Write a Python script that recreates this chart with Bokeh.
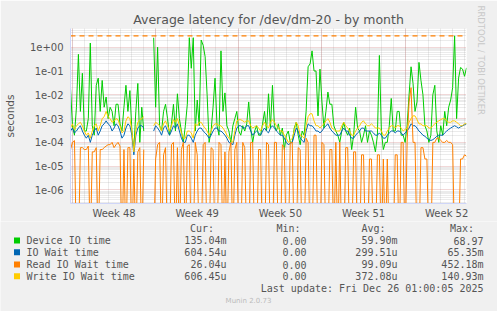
import math
from bokeh.plotting import figure
from bokeh.layouts import column
from bokeh.models import Range1d, FixedTicker, Title
from bokeh.core.properties import value
from bokeh.embed import file_html
from bokeh.resources import INLINE

N = None
# ---------------- data (seconds), one point per 4 hours ----------------
step_days = 1.0 / 6.0
device_io = [
    0.02, 5e-4, 2e-4, 0.003, 0.5, 0.002, 0.08, 3e-4, 3e-4, 0.001,
    1.5, 5e-4, 2e-4, 0.025, 0.05, 0.002, 0.04, 0.003, 0.008, 0.001,
    0.003, 0.002, 5e-4, 0.004, 0.004, 6e-4, 3e-4, 0.003, 0.025, 0.002,
    0.015, 3e-4, 5e-5, 0.002, 0.03, 1e-4, 0.003, 3e-4, N, N,
    N, N, 2.5, 0.003, 1.0, 5e-4, 3e-4, 0.002, 0.004, 0.001,
    2e-4, 6e-4, 0.004, 3e-4, 0.011, 0.001, 3e-4, 1e-4, 5e-4, 0.004,
    2.5, 0.13, 2.5, 3e-4, 0.006, 5e-4, 2.0, 1.2, 0.4, 0.01,
    1e-4, 3e-4, 0.003, 0.05, 5e-4, 2e-4, 0.7, 0.002, 0.012, 5e-4,
    3e-4, 1e-4, 5e-4, 0.001, 0.002, 3e-4, 2e-4, 5e-4, 3e-4, 6e-4,
    0.005, 4e-4, 1e-4, 3e-4, 5e-4, 2e-4, 2e-4, 6e-4, 0.002, 3e-4,
    0.011, 4e-4, 0.025, 5e-4, 3e-4, 6e-4, 2e-4, 4e-4, 5e-5, 2e-4,
    3e-4, 1e-4, 1e-4, 4e-4, 7e-4, 2e-4, 8e-5, 3e-4, 2e-4, 0.002,
    0.15, 0.2, 0.7, 0.1, 0.1, 0.0013, 0.12, 0.005, 4e-4, 0.002,
    0.013, 0.004, 0.004, 5e-4, 3e-4, 2e-4, 1e-4, 3e-4, 7e-4, 3e-4,
    2e-4, 4e-4, 5e-5, 2e-4, 0.003, 4e-4, 3e-4, 1e-4, 2e-4, 5e-4,
    1e-4, 3e-4, 2e-4, 1e-4, 4e-5, 2e-4, 0.45, 3e-4, 5e-5, 1e-4,
    1e-4, 5e-4, 0.007, 3e-4, 3e-4, 0.002, 0.002, 2e-4, 2e-4, 1e-4,
    5e-4, 0.01, 0.15, 0.03, 0.002, 0.005, 0.23, 0.04, 0.01, 5e-4,
    3e-4, 1e-4, 2e-4, 0.01, 0.025, 3e-4, 1e-4, 5e-4, 2e-4, 0.002,
    5e-4, 0.003, 0.006, 0.02, 3.0, 0.001, 0.05, 0.14, 0.12, 0.06,
    0.135]
io_wait = [
    3e-4, 4e-4, 2.5e-4, 3e-4, 4e-4, 5e-4, 3e-4, 2e-4, 1.5e-4, 2e-4,
    1e-4, 2e-4, 3e-4, 4e-4, 2e-4, 3e-4, 5e-4, 6e-4, 8e-4, 6e-4,
    5e-4, 3e-4, 4e-4, 6e-4, 5e-4, 3e-4, 1.5e-4, 2e-4, 4e-4, 6e-4,
    5e-4, 2e-4, 3e-5, 2e-4, 4e-4, 5e-4, 5e-4, 4e-4, N, N,
    N, N, 3e-4, 5e-4, 4e-4, 3e-4, 2e-4, 4e-4, 5e-4, 3e-4,
    2e-4, 3e-4, 5e-4, 4e-4, 6e-4, 3e-4, 1.5e-4, 1e-4, 1e-4, 2e-4,
    2e-4, 1.5e-4, 1e-4, 2e-4, 3e-4, 4e-4, 4e-4, 3e-4, 2.5e-4, 2e-4,
    1.5e-4, 2e-4, 3e-4, 4e-4, 4e-4, 3e-4, 3e-4, 2.5e-4, 2e-4, 1.5e-4,
    1e-4, 9e-5, 8e-5, 2e-4, 4e-4, 5e-4, 5e-4, 4e-4, 4e-4, 5e-4,
    5e-4, 3e-4, 2e-4, 2.5e-4, 3e-4, 2.5e-4, 2e-4, 3e-4, 4e-4, 3e-4,
    2.5e-4, 4e-4, 5e-4, 4e-4, 3e-4, 2.5e-4, 2e-4, 2e-4, 1.5e-4, 1e-4,
    8e-5, 9e-5, 1e-4, 2e-4, 4e-4, 3e-4, 1.5e-4, 1.2e-4, 1e-4, 3e-4,
    6e-4, 5e-4, 5e-4, 4e-4, 3e-4, 3e-4, 2.5e-4, 3e-4, 4e-4, 5e-4,
    6e-4, 4e-4, 3e-4, 2.5e-4, 2e-4, 2e-4, 2e-4, 3e-4, 4e-4, 3e-4,
    3e-4, 2e-4, 1.5e-4, 1.5e-4, 2e-4, 2.5e-4, 3e-4, 4e-4, 4e-4, 3e-4,
    3e-4, 3e-4, 3e-4, 2.5e-4, 2e-4, 2e-4, 2.5e-4, 2e-4, 1.5e-4, 1.5e-4,
    2e-4, 2.5e-4, 3e-4, 3e-4, 2.5e-4, 3e-4, 3e-4, 2.5e-4, 2e-4, 2.5e-4,
    3e-4, 4e-4, 6e-4, 5e-4, 5e-4, 4e-4, 3e-4, 2.5e-4, 2e-4, 1.8e-4,
    1.5e-4, 1.3e-4, 1.2e-4, 1.3e-4, 1.5e-4, 1.8e-4, 2e-4, 2e-4, 2e-4, 2.5e-4,
    3e-4, 3.5e-4, 4e-4, 4.5e-4, 5e-4, 4.5e-4, 4e-4, 4.5e-4, 5e-4, 5.5e-4,
    6.0e-4]
read_wait = [
    5e-5, 1e-4, 1.2e-4, 0, 0, 6e-5, 6e-5, 5e-5, 5e-5, 7e-5,
    0, 4e-5, 4e-5, 6e-5, 0, 5e-5, 5e-5, 6e-5, 7e-5, 8e-5,
    8e-5, 1e-4, 6e-5, 8e-5, 1e-4, 7e-5, 0, 5e-5, 0, 6e-5,
    6e-5, 0, 2e-5, 0, 4e-5, 6e-5, 0, 5e-5, N, N,
    N, N, 0, 2e-5, 8e-5, 1e-4, 0, 3e-5, 6e-5, 0,
    0, 8e-5, 1e-4, 0, 6e-5, 0, 5e-5, 1e-4, 0, 7e-5,
    8e-5, 0, 0, 1e-4, 3e-5, 0, 0, 8e-5, 1e-4, 0,
    0, 6e-5, 5e-5, 0, 0, 1e-4, 8e-5, 0, 4e-5, 0,
    4e-5, 1e-4, 0, 5e-5, 1e-4, 0, 0, 1e-4, 6e-5, 0,
    0, 1e-4, 1e-4, 0, 0, 5e-5, 5e-5, 0, 0, 1e-4,
    8e-5, 0, 0, 1e-4, 1e-4, 0, 0, 8e-5, 6e-5, 0,
    0, 1e-4, 1e-4, 0, 0, 6e-5, 5e-5, 0, 0, 1.5e-4,
    1e-4, 0, 0, 2e-4, 2e-4, 0, 0, 1e-4, 8e-5, 0,
    0, 5e-5, 5e-5, 0, 1e-4, 0, 1e-4, 0, 0, 6e-5,
    6e-5, 0, 0, 4e-5, 4e-5, 0, 0, 3e-5, 3e-5, 0,
    0, 2e-5, 2e-5, 0, 0, 3e-5, 3e-5, 0, 2e-5, 0,
    2e-5, 0, 0, 0, 3e-5, 3e-5, 0, 1e-4, 1e-4, 0,
    1e-4, 0.005, 0.02, 1e-4, 1e-4, 0, 0, 6e-5, 6e-5, 2e-5,
    2e-5, 0, 0, 1e-4, 1e-4, 1.5e-4, 1.5e-4, 1.2e-4, 1e-4, 1e-4,
    1.2e-4, 1e-4, 1e-4, 8e-5, 0, 0, 0, 2e-5, 2e-5, 3e-5,
    2.6e-5]
write_wait = [
    4e-4, 6e-4, 3.5e-4, 5e-4, 6e-4, 7e-4, 5e-4, 3e-4, 2e-4, 2.5e-4,
    1.5e-4, 3e-4, 5e-4, 6e-4, 3e-4, 5e-4, 1e-3, 1.2e-3, 2e-3, 1.2e-3,
    1e-3, 7e-4, 8e-4, 1e-3, 9e-4, 5e-4, 2.5e-4, 3e-4, 8e-4, 1.2e-3,
    1e-3, 3e-4, 4e-5, 3e-4, 7e-4, 9e-4, 1e-3, 1.2e-3, N, N,
    N, N, 5e-4, 7e-4, 6e-4, 5e-4, 3e-4, 6e-4, 8e-4, 5e-4,
    3e-4, 5e-4, 9e-4, 7e-4, 1e-3, 5e-4, 2.5e-4, 1.5e-4, 1.5e-4, 3e-4,
    3e-4, 2.5e-4, 1.5e-4, 6e-4, 5e-4, 7e-4, 7e-4, 5e-4, 4e-4, 3e-4,
    2e-4, 3e-4, 5e-4, 6e-4, 6e-4, 5e-4, 5e-4, 4e-4, 3e-4, 2e-4,
    1.5e-4, 1.2e-4, 1e-4, 3e-4, 8e-4, 9e-4, 9e-4, 8e-4, 7e-4, 8e-4,
    8e-4, 5e-4, 4e-4, 4.5e-4, 5e-4, 4e-4, 3e-4, 5e-4, 7e-4, 5e-4,
    4e-4, 7e-4, 9e-4, 7e-4, 5e-4, 4e-4, 3e-4, 3e-4, 2e-4, 1.5e-4,
    1e-4, 1.2e-4, 1.5e-4, 3e-4, 7e-4, 5e-4, 2e-4, 1.8e-4, 1.5e-4, 5e-4,
    1.2e-3, 1.6e-3, 1.6e-3, 8e-4, 5e-4, 5e-4, 4e-4, 5e-4, 6e-4, 8e-4,
    1e-3, 7e-4, 4e-4, 3.5e-4, 3e-4, 3e-4, 3e-4, 5e-4, 7e-4, 5e-4,
    4e-4, 3e-4, 2e-4, 2e-4, 3e-4, 4e-4, 5e-4, 7e-4, 8e-4, 6e-4,
    5e-4, 5e-4, 6e-4, 5e-4, 4e-4, 4e-4, 4e-4, 3e-4, 2e-4, 2e-4,
    3e-4, 4e-4, 5e-4, 5e-4, 4e-4, 5e-4, 5e-4, 4e-4, 3e-4, 3.5e-4,
    4e-4, 7e-4, 1e-3, 1.3e-3, 1.3e-3, 9e-4, 6e-4, 6e-4, 5e-4, 5e-4,
    5e-4, 4e-4, 4e-4, 5e-4, 6e-4, 7e-4, 8e-4, 9e-4, 1e-3, 1e-3,
    8e-4, 7e-4, 7e-4, 8e-4, 8e-4, 7e-4, 6e-4, 5e-4, 5e-4, 6e-4,
    6.1e-4]
warning_level = 3.0

series_names = ["Device IO time", "IO Wait time", "Read IO Wait time", "Write IO Wait time"]
series_colors = ["#00CC00", "#0066B3", "#FF8000", "#FFCC00"]
cur_vals = ["135.04m", "604.54u", "26.04u", "606.45u"]
min_vals = ["0.00", "0.00", "0.00", "0.00"]
avg_vals = ["59.90m", "299.51u", "99.09u", "372.08u"]
max_vals = ["68.97", "65.35m", "452.18m", "140.93m"]
col_heads = ["Cur:", "Min:", "Avg:", "Max:"]
last_update = "Last update: Fri Dec 26 01:00:05 2025"
title_text = "Average latency for /dev/dm-20 - by month"

week_labels = ["Week 48", "Week 49", "Week 50", "Week 51", "Week 52"]
week_starts = [1.0 / 6.0 + 7 * k for k in range(5)]      # Mondays, days from left edge
week_mid = [s + 3.5 for s in week_starts]
day_lines = [1.0 / 6.0 + k for k in range(34)]
span_days = 400.0 / 12.0
y_lo, y_hi = 2.7e-7, 6.1
dec_exp = list(range(-6, 1))
decades = [10.0 ** e for e in dec_exp]
minor_y = [m * 10.0 ** e for e in range(-7, 1) for m in range(2, 10)]

# ---------------- chart figure ----------------
W = 497
H1, H2 = 221, 90
FL, FR, FT, FB = 67, 467, 28, 203
FONT = "DejaVu Sans"
MONO = "DejaVu Sans Mono"
TXT = "#555555"
BG = "#F0F0F0"

p = figure(width=W, height=H1, output_backend="svg", toolbar_location=None,
           y_axis_type="log", x_range=Range1d(0, span_days), y_range=Range1d(y_lo, y_hi),
           min_border_left=FL, min_border_right=W - FR, min_border_top=FT,
           min_border_bottom=H1 - FB)
p.background_fill_color = "#FFFFFF"
p.border_fill_color = BG
p.outline_line_color = None

p.title.text = title_text
p.title.align = "center"
p.title.text_font = FONT
p.title.text_font_size = "12.5px"
p.title.text_font_style = "normal"
p.title.text_color = TXT
p.title.standoff = 3

rt = Title(text="RRDTOOL / TOBI OETIKER", text_font=FONT, text_font_size="8.5px",
           text_font_style="normal", text_color="#C8C8C8", align="left",
           standoff=19, offset=-23)
p.add_layout(rt, "right")

# grids
p.xgrid.ticker = FixedTicker(ticks=week_starts, minor_ticks=day_lines)
p.ygrid.ticker = FixedTicker(ticks=decades, minor_ticks=minor_y)
for g in (p.xgrid, p.ygrid):
    g.grid_line_color = "#C86464"
    g.grid_line_alpha = 0.5
    g.grid_line_dash = "1 1"
    g.minor_grid_line_color = "#8C8C8C"
    g.minor_grid_line_alpha = 0.35
    g.minor_grid_line_dash = "1 1"

# axes
p.xaxis.ticker = FixedTicker(ticks=week_mid)
p.xaxis.major_label_overrides = {t: l for t, l in zip(week_mid, week_labels)}
p.yaxis.ticker = FixedTicker(ticks=decades)
p.yaxis.major_label_overrides = {d: "1e%+03d" % e for d, e in zip(decades, dec_exp)}
for ax in (p.xaxis[0], p.yaxis[0]):
    ax.axis_line_color = "#CFD6F8"
    ax.axis_line_width = 1
    ax.major_tick_in = 0
    ax.major_tick_out = 0
    ax.minor_tick_in = 0
    ax.minor_tick_out = 0
    ax.major_label_text_font = FONT
    ax.major_label_text_font_size = "10px"
    ax.major_label_text_color = TXT
p.xaxis.major_label_standoff = 4
p.yaxis.major_label_standoff = 7
p.yaxis.axis_label = "seconds"
p.yaxis.axis_label_text_font = FONT
p.yaxis.axis_label_text_font_size = "10.5px"
p.yaxis.axis_label_text_font_style = "normal"
p.yaxis.axis_label_text_color = TXT
p.yaxis.axis_label_standoff = 11

# series
x = [i * step_days for i in range(len(device_io))]
def prep(vals):
    out = []
    for v in vals:
        if v is None:
            out.append(float("nan"))
        elif v <= 0:
            out.append(y_lo * 0.01)   # zero on a log scale: line drops to the bottom edge
        else:
            out.append(v)
    return out

for vals, col in zip([device_io, io_wait, read_wait, write_wait], series_colors):
    p.line(x, prep(vals), line_color=col, line_width=1)

p.line([0, span_days], [warning_level, warning_level], line_color="#FF8000",
       line_width=1.2, line_dash="5 4")

# ---------------- legend figure (pixel coordinates) ----------------
q = figure(width=W, height=H2, output_backend="svg", toolbar_location=None,
           x_range=Range1d(0, W), y_range=Range1d(H2, 0),
           x_axis_location=None, y_axis_location=None,
           min_border=0, min_border_left=0, min_border_right=0,
           min_border_top=0, min_border_bottom=0)
q.background_fill_color = BG
q.border_fill_color = BG
q.outline_line_color = None
q.xgrid.visible = False
q.ygrid.visible = False
p.frame_align = False
q.frame_align = False

y0 = H1
row_y = [240 - y0, 251.7 - y0, 264 - y0, 275.7 - y0]
head_y = 228.3 - y0
head_x = [213.5, 300, 385, 473.5]
val_x = [226, 306, 397, 483]

def txt(xs, ys, texts, size="10px", color=TXT, align="left", font=MONO):
    q.text(x=xs, y=ys, text=texts, text_font=value(font), text_font_size=value(size),
           text_color=color, text_align=align, text_baseline="middle")

txt(head_x, [head_y] * 4, col_heads, align="right")
q.rect(x=[16.5] * 4, y=row_y, width=6, height=6, fill_color=series_colors, line_color=None)
txt([26] * 4, row_y, series_names)
for cx, vals in zip(val_x, [cur_vals, min_vals, avg_vals, max_vals]):
    txt([cx] * 4, row_y, vals, align="right")
txt([483], [287.7 - y0], [last_update], align="right")
txt([248], [300 - y0], ["Munin 2.0.73"], size="7px", color="#BBBBBB", align="center", font=FONT)

layout = column(p, q, spacing=0)
open("out.html", "w").write(file_html(layout, INLINE))
